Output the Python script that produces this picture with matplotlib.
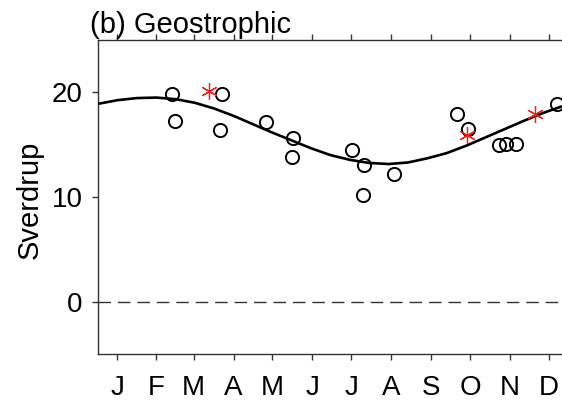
import matplotlib
matplotlib.use("Agg")
import matplotlib.pyplot as plt

plt.rcParams['font.family'] = ['Liberation Sans', 'DejaVu Sans']

# jours de l'annee (0-365)
mois = ["J", "F", "M", "A", "M", "J", "J", "A", "S", "O", "N", "D"]
jours_mois = [15, 45, 74, 105, 135, 166, 196, 227, 258, 288, 319, 349]

# observations (cercles)
obs_jour = [57, 59.6, 96, 94.2, 129.8, 151.2, 149.9, 196.4, 206.1, 205.3,
            229.3, 277.6, 286.6, 310.6, 315.8, 323.5, 355]
obs_val = [19.8, 17.3, 19.8, 16.4, 17.2, 15.65, 13.85, 14.5, 13.1, 10.2,
           12.2, 17.9, 16.5, 15.0, 15.1, 15.1, 18.9]

# observations (etoiles rouges)
etoile_jour = [86.1, 285.4, 338.2]
etoile_val = [20.1, 15.9, 17.9]

# ajustement saisonnier (courbe)
courbe_jour = [0, 15, 30, 45, 60, 75, 90, 105, 120, 135, 150, 165, 180,
               195, 210, 225, 240, 255, 270, 285, 300, 315, 330, 345, 360, 365]
courbe_val = [18.9, 19.25, 19.45, 19.5, 19.35, 19.0, 18.45, 17.75, 16.95,
              16.15, 15.4, 14.65, 14.0, 13.55, 13.25, 13.15, 13.3, 13.7,
              14.2, 14.9, 15.7, 16.5, 17.3, 18.05, 18.7, 18.9]

fig = plt.figure(figsize=(5.62, 4.04), dpi=100)
ax = fig.add_axes([98 / 562, 50 / 404, 471.6 / 562, 314 / 404])

ax.axhline(0, color="#333333", lw=1, dashes=(9, 5))
ax.plot(courbe_jour, courbe_val, color="black", lw=1.9, zorder=3)
ax.plot(obs_jour, obs_val, linestyle="none", marker="o", ms=9.5,
        mfc="none", mec="black", mew=1.4, zorder=4)
ax.plot(etoile_jour, etoile_val, linestyle="none", marker=(6, 2, 0), ms=12,
        color="#e8231c", mew=0.9, zorder=5)

ax.set_xlim(0, 365)
ax.set_ylim(-5, 25)
ax.set_xticks(jours_mois)
ax.set_xticklabels(mois)
ax.set_yticks([0, 10, 20])

for s in ax.spines.values():
    s.set_color("#333333")
    s.set_linewidth(1)
ax.spines["right"].set_visible(False)

ax.tick_params(axis="x", direction="out", length=4, width=1, color="#333333",
               top=True, labelsize=20, pad=11)
ax.tick_params(axis="y", direction="out", length=4, width=1, color="#333333",
               labelsize=20, pad=7)

fig.text(90 / 562, (404 - 33) / 404, "(b) Geostrophic", fontsize=21,
         ha="left", va="baseline")
fig.text(30 / 562, (404 - 200) / 404, "Sverdrup", fontsize=21, rotation=90,
         ha="center", va="center")

fig.savefig("out.png", dpi=100)
